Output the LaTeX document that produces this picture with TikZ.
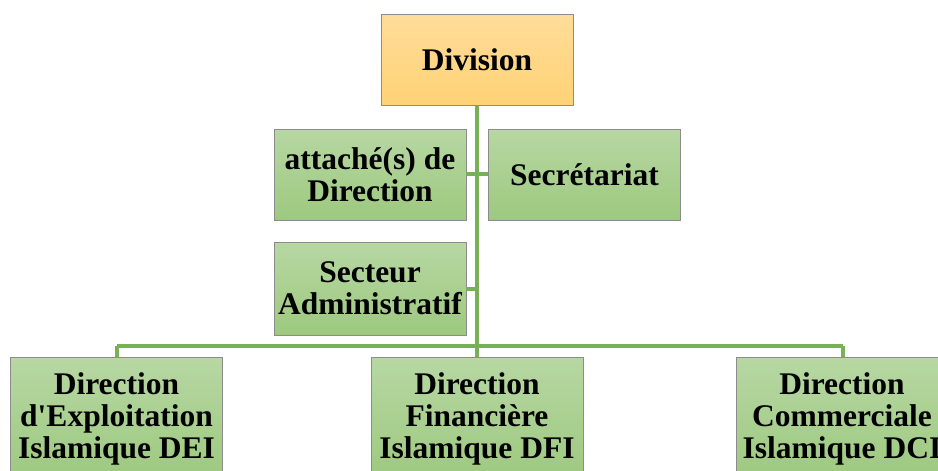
\documentclass[tikz,border=0pt]{standalone}
\usepackage{fontspec}
\setmainfont{Liberation Serif}[Ligatures=TeXOff]
\begin{document}
\begin{tikzpicture}[x=1pt,y=-1pt,
  box/.style={draw=black!45, line width=0.8pt, align=center, inner sep=0pt,
    font=\bfseries\fontsize{31.5}{32}\selectfont, text=black},
  greenbox/.style={box, top color=green1, bottom color=green2},
  orangebox/.style={box, top color=orange1, bottom color=orange2},
  link/.style={draw=linkgreen, line width=3.2pt}]
\definecolor{green1}{HTML}{B7D7A3}
\definecolor{green2}{HTML}{9DC97F}
\definecolor{orange1}{HTML}{FFDC9A}
\definecolor{orange2}{HTML}{FFD275}
\definecolor{linkgreen}{HTML}{78B153}
\useasboundingbox (0,0) rectangle (938,471);
\clip (0,0) rectangle (938,471);
% connectors first
\coordinate (top) at (477,105);
\coordinate (bus) at (477,346);
\coordinate (busL) at (117,346);
\coordinate (busR) at (843,346);
\coordinate (j1) at (477,174);
\coordinate (j2) at (477,289);
\draw[link] (top) -- (bus);
\draw[link] (busL) -- (busR);
% nodes
\node[orangebox, minimum width=192pt, minimum height=91pt] (div) at (477,59.5) {Division};
\node[greenbox, minimum width=192pt, minimum height=91pt] (att) at (370,174.5) {attaché(s) de\\Direction};
\node[greenbox, minimum width=192pt, minimum height=91pt] (sec) at (584.5,174.5) {Secrétariat};
\node[greenbox, minimum width=192pt, minimum height=93pt] (adm) at (370,288.5) {Secteur\\Administratif};
\node[greenbox, minimum width=212pt, minimum height=124pt] (dei) at (116.5,419) {Direction\\d'Exploitation\\Islamique DEI};
\node[greenbox, minimum width=212pt, minimum height=124pt] (dfi) at (477,419) {Direction\\Financière\\Islamique DFI};
\node[greenbox, minimum width=212pt, minimum height=124pt] (dci) at (842,419) {Direction\\Commerciale\\Islamique DCI};
% remaining connectors
\draw[link] (att.east |- j1) -- (sec.west |- j1);
\draw[link] (adm.east |- j2) -- (j2);
\draw[link] (busL) -- (busL |- dei.north);
\draw[link] (bus) -- (dfi.north);
\draw[link] (busR) -- (busR |- dci.north);
\end{tikzpicture}
\end{document}
